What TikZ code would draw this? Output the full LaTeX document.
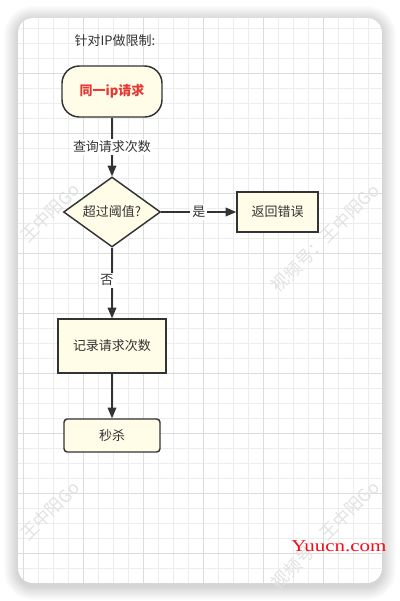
\documentclass[tikz,border=0pt]{standalone}
\usepackage{fontspec}
\newfontfamily\cjk{Noto Sans CJK SC}
\newfontfamily\sitefont{Liberation Serif}
\usetikzlibrary{shapes.geometric,arrows.meta}
\definecolor{nodefill}{HTML}{FFFDE7}
\definecolor{linecol}{HTML}{333333}
\definecolor{startred}{HTML}{E53935}
\definecolor{minorgrid}{HTML}{EDEDED}
\definecolor{majorgrid}{HTML}{DCDCDC}
\definecolor{marktext}{HTML}{E2E2E2}
\definecolor{sitered}{HTML}{F2101E}

\begin{document}
\begin{tikzpicture}[
        x=0.75pt, y=-0.75pt,
        font=\cjk\fontsize{9.75}{11}\selectfont,
        text=linecol,
        base/.style={draw=linecol, line width=1.1pt, fill=nodefill, align=center, inner sep=0pt},
        terminal/.style={base, rectangle, rounded corners=13pt, minimum width=75pt, minimum height=38.25pt},
        process/.style={base, rectangle},
        decision/.style={base, diamond, aspect=1.39, minimum width=72.75pt, minimum height=52.5pt},
        lbl/.style={fill=white, inner sep=1.5pt},
        rel/.style={-{Triangle[length=8pt,width=6.5pt]}, line width=1.1pt, draw=linecol},
        minor/.style={draw=minorgrid, line width=0.75pt},
        major/.style={draw=majorgrid, line width=0.75pt},
        wmark/.style={rotate=45, text=marktext, font=\cjk\fontsize{13}{15}\selectfont},
        sitemark/.style={anchor=base, text=sitered, xscale=1.26, font=\sitefont\fontsize{12.5}{14}\selectfont}
    ]
        \useasboundingbox (0,0) rectangle (400,601);

        % card shadow
        \foreach \s in {1,...,14}{
            \pgfmathsetmacro{\rad}{(15+\s)*0.75}
            \fill[black, opacity=0.011, rounded corners=\rad pt] (18-\s,18-\s+2) rectangle (382+\s,583+\s+3);
        }

        % card with grid
        \begin{scope}
            \clip[rounded corners=11.25pt] (18,18) rectangle (382,583);
            \fill[white] (18,18) rectangle (382,583);
            \foreach \x in {8,23,...,383} \draw[minor] (\x,18) -- (\x,583);
            \foreach \y in {13,28,...,583} \draw[minor] (18,\y) -- (382,\y);
            \foreach \x in {23,83,...,383} \draw[major] (\x,18) -- (\x,583);
            \foreach \y in {13,73,...,583} \draw[major] (18,\y) -- (382,\y);
        \end{scope}

        % watermarks
        \node[wmark] (markA) at (50,213) {王中阳Go};
        \node[wmark] (markB) at (325,238) {视频号：王中阳Go};
        \node[wmark] (markC) at (50,511) {王中阳Go};
        \node[wmark] (markD) at (325,535) {视频号：王中阳Go};

        \node (title) at (115,41) {针对IP做限制:};
        \node[terminal, text=startred, font=\cjk\bfseries\fontsize{9.75}{11}\selectfont] (request) at (112,91.5) {同一ip请求};
        \node[decision] (check) at (112,212) {超过阈值?};
        \node[process, minimum width=60.75pt, minimum height=30pt] (error) at (277.5,212) {返回错误};
        \node[process, minimum width=81pt, minimum height=40.5pt] (record) at (112,346) {记录请求次数};
        \node[process, rounded corners=2.5pt, minimum width=72pt, minimum height=24.75pt] (seckill) at (112,435.5) {秒杀};

        \draw[rel] (request) -- node[lbl] {查询请求次数} (check);
        \draw[rel] (check) -- node[lbl] {是} (error);
        \draw[rel] (check) -- node[lbl, pos=0.46, xshift=-3.75pt] {否} (record);
        \draw[rel] (record) -- (seckill);

        \node[sitemark] (site) at (339,551) {Yuucn.com};
    \end{tikzpicture}
\end{document}
